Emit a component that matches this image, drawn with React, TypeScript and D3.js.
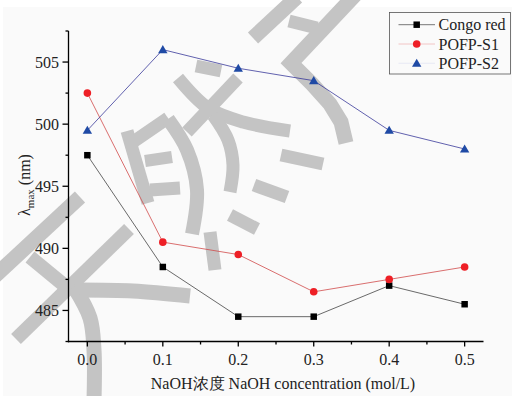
import React from "react";
import * as d3 from "d3";

const xValues = [0.0, 0.1, 0.2, 0.3, 0.4, 0.5];
const congoRed = [497.5, 488.5, 484.5, 484.5, 487.0, 485.5];
const pofpS1 = [502.5, 490.5, 489.5, 486.5, 487.5, 488.5];
const pofpS2 = [499.5, 506.0, 504.5, 503.5, 499.5, 498.0];
const xTicks = [0.0, 0.1, 0.2, 0.3, 0.4, 0.5];
const xMinorTicks = [0.05, 0.15, 0.25, 0.35, 0.45];
const yTicks = [485, 490, 495, 500, 505];
const yMinorTicks = [482.5, 487.5, 492.5, 497.5, 502.5, 507.5];
const seriesNames = ["Congo red", "POFP-S1", "POFP-S2"];

// decorative watermark strokes (background image decoration)
const watermark: { pts: [number, number][]; w: number; curve?: boolean }[] = [
  { pts: [[253, 38], [297, -3]], w: 15 },
  { pts: [[289, 21], [317, 28]], w: 13 },
  { pts: [[356, -6], [291, 63], [312, 84], [330, 104], [341, 122], [346, 143]], w: 15 },
  { pts: [[196, 66], [221, 71]], w: 13 },
  { pts: [[178, 78], [208, 108], [243, 122], [290, 131]], w: 13, curve: true },
  { pts: [[238, 78], [187, 132]], w: 13 },
  { pts: [[213, 115], [228, 140], [233, 165], [230, 192]], w: 13, curve: true },
  { pts: [[127, 131], [148, 203]], w: 13 },
  { pts: [[133, 142], [168, 118]], w: 13 },
  { pts: [[168, 119], [187, 150], [197, 190], [192, 234]], w: 14, curve: true },
  { pts: [[145, 161], [172, 157]], w: 12 },
  { pts: [[150, 190], [180, 188]], w: 13 },
  { pts: [[281, 155], [323, 164]], w: 13 },
  { pts: [[254, 185], [287, 197]], w: 13 },
  { pts: [[230, 215], [257, 229]], w: 13 },
  { pts: [[210, 232], [215, 270]], w: 13 },
  { pts: [[16, 339], [129, 229]], w: 14 },
  { pts: [[-5, 276], [80, 197]], w: 15 },
  { pts: [[30, 257], [70, 290]], w: 14 },
  { pts: [[74, 287], [90, 318], [94, 350], [94, 400]], w: 15, curve: true },
  { pts: [[80, 290], [133, 291], [190, 296]], w: 15, curve: true },
];

const W = 512;
const H = 396;
const left = 68.5;
const right = 483.5;
const top = 31;
const bottom = 341.5;

const TS = { fontFamily: '"Liberation Serif"' };

export default function App() {
  const x = d3.scaleLinear().domain([-0.025, 0.525]).range([left, right]);
  const y = d3.scaleLinear().domain([482.5, 507.5]).range([bottom, top]);

  const line = d3
    .line<number>()
    .x((_, i) => x(xValues[i]))
    .y((d) => y(d));

  const wmLine = d3.line<[number, number]>();
  const wmCurve = d3.line<[number, number]>().curve(d3.curveCatmullRom.alpha(0.5));

  const sym = (type: d3.SymbolType, size: number) => d3.symbol().type(type).size(size)() as string;
  const squarePath = sym(d3.symbolSquare, 42);
  const trianglePath = sym(d3.symbolTriangle, 38);

  const legendY = [24.7, 44, 63.3];

  return (
    <svg width={W} height={H} style={{ position: "absolute", left: 0, top: 0 }}>
      <rect x={0} y={0} width={W} height={H} fill="#ffffff" />
      <rect x={3} y={7} width={W - 3} height={H - 7} fill="#fafafa" />
      <g fill="none" stroke="#c4c4c4" strokeLinecap="butt" strokeLinejoin="miter">
        {watermark.map((s, i) => (
          <path key={i} d={(s.curve ? wmCurve : wmLine)(s.pts) as string} strokeWidth={s.w} />
        ))}
      </g>

      {/* axes */}
      <g stroke="#000" strokeWidth={1.3}>
        <line x1={left} x2={left} y1={top} y2={bottom + 0.65} />
        <line x1={left - 0.65} x2={right} y1={bottom} y2={bottom} />
        {xTicks.map((t) => (
          <line key={"xt" + t} x1={x(t)} x2={x(t)} y1={bottom} y2={bottom + 5} />
        ))}
        {xMinorTicks.map((t) => (
          <line key={"xm" + t} x1={x(t)} x2={x(t)} y1={bottom} y2={bottom + 3} />
        ))}
        {yTicks.map((t) => (
          <line key={"yt" + t} x1={left} x2={left - 6} y1={y(t)} y2={y(t)} />
        ))}
        {yMinorTicks.map((t) => (
          <line key={"ym" + t} x1={left} x2={left - 3} y1={y(t)} y2={y(t)} />
        ))}
      </g>
      <g fontSize={16} fill="#222">
        {xTicks.map((t) => (
          <text key={"xl" + t} x={x(t)} y={365} textAnchor="middle" style={TS}>
            {t.toFixed(1)}
          </text>
        ))}
        {yTicks.map((t) => (
          <text key={"yl" + t} x={59} y={y(t) + 5.5} textAnchor="end" style={TS}>
            {t}
          </text>
        ))}
        <text x={283} y={389} textAnchor="middle" style={TS}>
          NaOH浓度 NaOH concentration (mol/L)
        </text>
        <text transform="translate(30,185) rotate(-90)" textAnchor="middle" style={TS}>
          λ<tspan fontSize={11} dy={4}>max</tspan>
          <tspan dy={-4}>{"\u00a0(nm)"}</tspan>
        </text>
      </g>

      {/* series lines */}
      <path d={line(congoRed) as string} fill="none" stroke="#444" strokeWidth={0.8} />
      <path d={line(pofpS1) as string} fill="none" stroke="#d04a4a" strokeWidth={0.8} />
      <path d={line(pofpS2) as string} fill="none" stroke="#3a3a9a" strokeWidth={0.8} />

      {/* markers */}
      {congoRed.map((v, i) => (
        <path key={"c" + i} d={squarePath} transform={`translate(${x(xValues[i])},${y(v)})`} fill="#000" />
      ))}
      {pofpS1.map((v, i) => (
        <circle key={"r" + i} cx={x(xValues[i])} cy={y(v)} r={3.8} fill="#ee1f26" />
      ))}
      {pofpS2.map((v, i) => (
        <path key={"b" + i} d={trianglePath} transform={`translate(${x(xValues[i])},${y(v) + 0.8})`} fill="#1f4aa5" />
      ))}

      {/* legend */}
      <rect x={389.5} y={12.5} width={121} height={61.5} fill="#fafafa" stroke="#555" strokeWidth={0.8} />
      <line x1={398.5} x2={435} y1={legendY[0]} y2={legendY[0]} stroke="#555" strokeWidth={0.8} />
      <line x1={398.5} x2={435} y1={legendY[1]} y2={legendY[1]} stroke="#f0b8b8" strokeWidth={0.8} />
      <line x1={398.5} x2={435} y1={legendY[2]} y2={legendY[2]} stroke="#e4e6f4" strokeWidth={0.8} />
      <path d={squarePath} transform={`translate(416.7,${legendY[0]})`} fill="#000" />
      <circle cx={416.7} cy={legendY[1]} r={3.8} fill="#ee1f26" />
      <path d={trianglePath} transform={`translate(416.7,${legendY[2] + 0.8})`} fill="#1f4aa5" />
      <g fontSize={16} fill="#222">
        {seriesNames.map((n, i) => (
          <text key={n} x={438.5} y={legendY[i] + 5.5} style={TS}>
            {n}
          </text>
        ))}
      </g>
    </svg>
  );
}
